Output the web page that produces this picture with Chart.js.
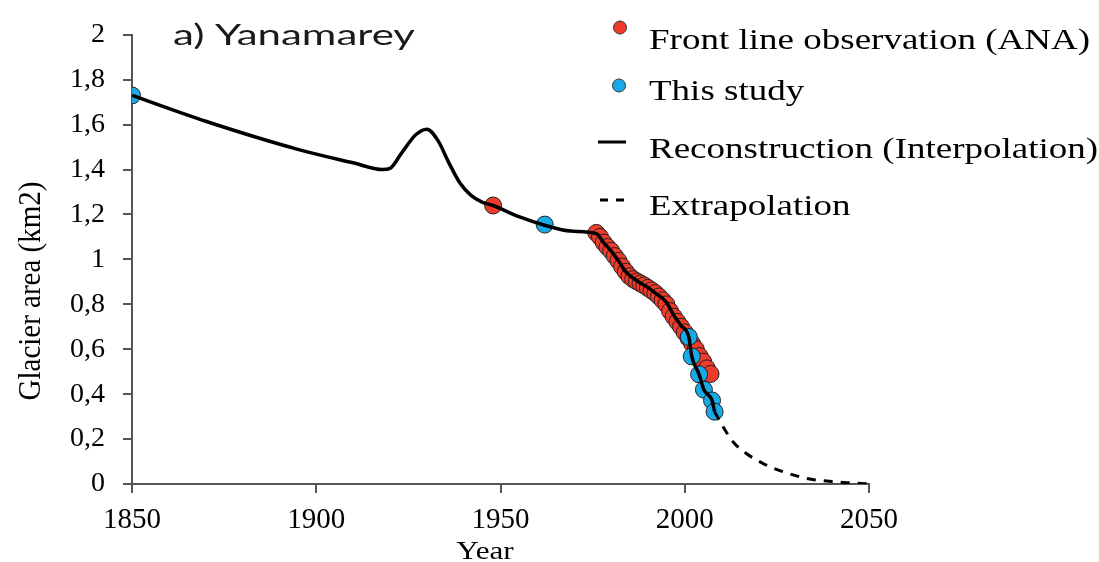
<!DOCTYPE html>
<html>
<head>
<meta charset="utf-8">
<script src="https://cdn.jsdelivr.net/npm/chart.js@4"></script>
<style>
  html, body { margin: 0; padding: 0; background: #fff; }
  #wrap { width: 1099px; height: 562px; }
</style>
</head>
<body>
<div id="wrap"><canvas id="myChart" width="1099" height="562"></canvas></div>
<script>
// reconstruction (interpolation) curve
var reconYears = [1850, 1870, 1895, 1910, 1918, 1920, 1923, 1927, 1930, 1933, 1936, 1939, 1942, 1945, 1948, 1955, 1962, 1969, 1976,
    1978, 1980, 1982, 1984, 1987, 1990, 1992, 1995, 1997, 1999, 2001.1, 2001.9, 2003.9, 2005.2, 2007.4, 2008.1];
var reconArea = [1.73, 1.615, 1.49, 1.43, 1.40, 1.405, 1.47, 1.555, 1.58, 1.53, 1.43, 1.34, 1.285, 1.255, 1.24, 1.19, 1.152, 1.126, 1.115,
    1.075, 1.038, 0.994, 0.945, 0.905, 0.875, 0.85, 0.81, 0.752, 0.705, 0.655, 0.568, 0.488, 0.42, 0.372, 0.322];

// extrapolation
var extraYears = [2008.1, 2010.5, 2013.2, 2016.8, 2021.3, 2026.8, 2033, 2038.5, 2044, 2050];
var extraArea = [0.322, 0.252, 0.186, 0.135, 0.091, 0.054, 0.025, 0.013, 0.006, 0];

// front line observation (ANA)
var anaYears = [1948, 1976, 1977, 1978, 1979, 1980, 1981, 1982, 1983, 1984, 1985, 1986, 1987, 1988, 1989, 1990, 1991,
    1992, 1993, 1994, 1995, 1996, 1997, 1998, 1999, 2000, 2001, 2002, 2003, 2004, 2005, 2006, 2007];
var anaArea = [1.24, 1.118, 1.10, 1.075, 1.055, 1.038, 1.015, 0.994, 0.968, 0.945, 0.925, 0.912, 0.902, 0.893, 0.884, 0.873, 0.862,
    0.85, 0.835, 0.818, 0.80, 0.77, 0.745, 0.722, 0.70, 0.675, 0.65, 0.625, 0.60, 0.57, 0.545, 0.515, 0.49];

// this study
var studyYears = [1850, 1962, 2001.1, 2001.9, 2003.9, 2005.2, 2007.4, 2008.1];
var studyArea = [1.73, 1.155, 0.655, 0.568, 0.488, 0.42, 0.372, 0.322];

var legendLabels = ['Front line observation (ANA)', 'This study', 'Reconstruction (Interpolation)', 'Extrapolation'];
var panelTitle = 'a) Yanamarey';
var xTitle = 'Year';
var yTitle = 'Glacier area (km2)';

function pts(xs, ys) {
    return xs.map(function(x, i) { return {x: x, y: ys[i]}; });
}

var RED = '#ee3b2c';
var BLUE = '#19a9e8';
var SERIF = '"Liberation Serif", "Times New Roman", serif';

function stretchText(ctx, text, x, y, sx) {
    ctx.save();
    ctx.translate(x, y);
    ctx.scale(sx, 1);
    ctx.fillText(text, 0, 0);
    ctx.restore();
}

var overlay = {
    id: 'overlay',
    afterDraw: function(chart) {
        var ctx = chart.ctx;
        ctx.save();
        ctx.fillStyle = '#1a1a1a';
        ctx.textBaseline = 'alphabetic';
        ctx.textAlign = 'left';

        // panel title
        ctx.font = '28px Lato, "Open Sans", sans-serif';
        var tw = ctx.measureText(panelTitle).width;
        stretchText(ctx, panelTitle, 173, 45, 242 / tw);

        // legend
        ctx.font = '30px ' + SERIF;
        ctx.fillStyle = '#000';
        var sx = 441 / ctx.measureText(legendLabels[0]).width;
        var base = [49, 100, 158, 215];
        for (var i = 0; i < legendLabels.length; i++) {
            stretchText(ctx, legendLabels[i], 649, base[i], sx);
        }

        // axis titles
        ctx.font = '26px ' + SERIF;
        var xw = ctx.measureText(xTitle).width;
        stretchText(ctx, xTitle, 485 - xw * 0.6, 559, 1.2);
        ctx.save();
        ctx.font = '29px ' + SERIF;
        ctx.translate(40, 291);
        ctx.rotate(-Math.PI / 2);
        ctx.scale(1, 1.1);
        ctx.textAlign = 'center';
        ctx.fillText(yTitle, 0, 0);
        ctx.restore();

        // legend markers
        ctx.lineWidth = 1;
        ctx.strokeStyle = '#333';
        ctx.fillStyle = RED;
        ctx.beginPath(); ctx.arc(620, 27.5, 6.5, 0, Math.PI * 2); ctx.fill(); ctx.stroke();
        ctx.fillStyle = BLUE;
        ctx.beginPath(); ctx.arc(619, 85.5, 6.5, 0, Math.PI * 2); ctx.fill(); ctx.stroke();
        ctx.strokeStyle = '#000';
        ctx.lineWidth = 3;
        ctx.beginPath(); ctx.moveTo(598, 142); ctx.lineTo(626, 142); ctx.stroke();
        ctx.beginPath(); ctx.moveTo(600, 200); ctx.lineTo(608, 200); ctx.moveTo(616, 200); ctx.lineTo(624, 200); ctx.stroke();
        ctx.restore();
    }
};

var ctx = document.getElementById('myChart');
var chart = new Chart(ctx, {
    type: 'scatter',
    data: {
        datasets: [
            {
                label: legendLabels[2],
                data: pts(reconYears, reconArea),
                showLine: true,
                borderColor: '#000',
                borderWidth: 3.5,
                pointRadius: 0,
                cubicInterpolationMode: 'monotone',
                order: 0
            },
            {
                label: legendLabels[3],
                data: pts(extraYears, extraArea),
                showLine: true,
                borderColor: '#000',
                borderWidth: 3,
                borderDash: [9, 8],
                pointRadius: 0,
                cubicInterpolationMode: 'monotone',
                order: 1
            },
            {
                label: legendLabels[1],
                data: pts(studyYears, studyArea),
                backgroundColor: BLUE,
                borderColor: '#222',
                borderWidth: 1,
                pointRadius: 8.5,
                order: 2
            },
            {
                label: legendLabels[0],
                data: pts(anaYears, anaArea),
                backgroundColor: RED,
                borderColor: '#222',
                borderWidth: 1,
                pointRadius: 8.5,
                order: 3
            }
        ]
    },
    options: {
        responsive: false,
        animation: false,
        layout: {padding: {top: 30, right: 230, left: 0, bottom: 0}},
        plugins: {
            legend: {display: false},
            tooltip: {enabled: false}
        },
        scales: {
            x: {
                type: 'linear',
                min: 1850,
                max: 2050,
                afterFit: function(s) { s.height = 78; },
                ticks: {
                    stepSize: 50,
                    color: '#000',
                    padding: 10,
                    font: {family: SERIF, size: 29},
                    callback: function(v) { return String(v); }
                },
                grid: {drawOnChartArea: false, drawTicks: true, tickLength: 9, color: '#555', lineWidth: 2},
                border: {display: true, color: '#555', width: 2}
            },
            y: {
                min: 0,
                max: 2,
                afterFit: function(s) { s.width = 132; },
                ticks: {
                    stepSize: 0.2,
                    color: '#000',
                    padding: 18,
                    font: {family: SERIF, size: 28},
                    callback: function(v) { return String(Math.round(v * 10) / 10).replace('.', ','); }
                },
                grid: {drawOnChartArea: false, drawTicks: true, tickLength: 9, color: '#555', lineWidth: 2},
                border: {display: true, color: '#555', width: 2}
            }
        }
    },
    plugins: [overlay]
});
</script>
</body>
</html>
